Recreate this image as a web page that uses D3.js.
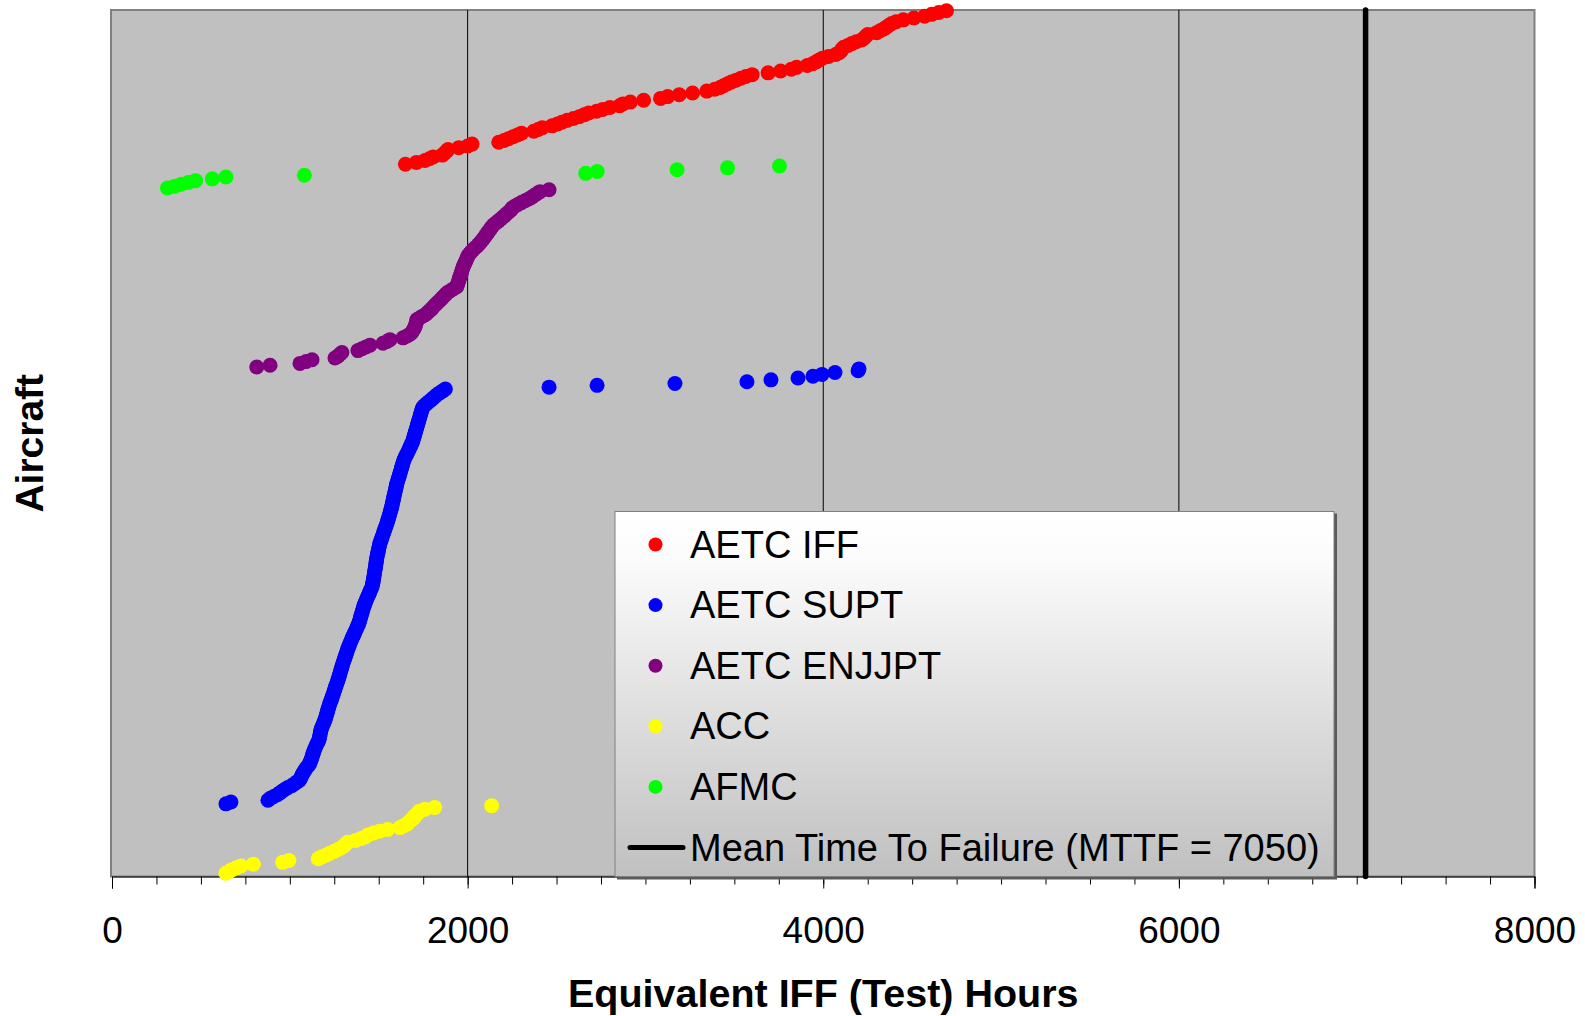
<!DOCTYPE html>
<html>
<head>
<meta charset="utf-8">
<script src="https://cdn.jsdelivr.net/npm/d3@7"></script>
<style>
    body { margin: 0; background: #fff; }
    svg { display: block; font-family: "Liberation Sans", Arial, sans-serif; }
</style>
</head>
<body>
<div class="main"></div>
<script>
// Equivalent IFF hours per aircraft, each group sorted ascending
const acc = [640, 660, 675, 700, 725, 795, 960, 995, 1160, 1180, 1205, 1225, 1250, 1270, 1290, 1305, 1315, 1325, 1370, 1400,
    1425, 1440, 1470, 1505, 1550, 1620, 1640, 1660, 1670, 1680, 1695, 1700, 1710, 1720, 1730, 1760, 1815, 2135];

const supt = [641, 669, 877, 890, 910, 930, 944, 958, 973, 990,
    1011, 1027, 1040, 1055, 1061, 1065, 1070, 1076, 1082, 1088,
    1096, 1106, 1111, 1115, 1119, 1123, 1126, 1129, 1133, 1136,
    1140, 1144, 1149, 1154, 1159, 1164, 1166, 1168, 1170, 1172,
    1174, 1177, 1181, 1185, 1190, 1194, 1198, 1201, 1204, 1207,
    1210, 1213, 1216, 1219, 1222, 1225, 1230, 1233, 1237, 1240,
    1244, 1247, 1251, 1254, 1257, 1261, 1265, 1268, 1272, 1275,
    1278, 1281, 1284, 1287, 1290, 1293, 1296, 1299, 1303, 1306,
    1310, 1313, 1317, 1320, 1324, 1327, 1331, 1335, 1339, 1343,
    1348, 1352, 1357, 1362, 1366, 1371, 1376, 1380, 1385, 1389,
    1392, 1395, 1398, 1401, 1404, 1407, 1410, 1413, 1416, 1420,
    1424, 1428, 1432, 1437, 1441, 1446, 1450, 1454, 1459, 1463,
    1465, 1467, 1469, 1471, 1472, 1474, 1476, 1477, 1479, 1481,
    1482, 1484, 1485, 1487, 1488, 1490, 1492, 1494, 1497, 1499,
    1501, 1503, 1505, 1508, 1512, 1516, 1519, 1523, 1526, 1530,
    1533, 1537, 1541, 1544, 1548, 1551, 1554, 1557, 1560, 1563,
    1566, 1569, 1572, 1574, 1576, 1578, 1581, 1583, 1585, 1588,
    1590, 1592, 1595, 1597, 1599, 1601, 1604, 1607, 1611, 1614,
    1617, 1620, 1623, 1626, 1629, 1632, 1635, 1638, 1641, 1646,
    1651, 1656, 1661, 1666, 1671, 1676, 1680, 1685, 1690, 1693,
    1696, 1699, 1702, 1705, 1708, 1711, 1714, 1717, 1720, 1723,
    1726, 1729, 1732, 1735, 1738, 1741, 1744, 1748, 1758, 1770,
    1782, 1794, 1806, 1818, 1830, 1845, 1860, 1875,
    2458, 2728, 3166, 3571, 3706, 3858, 3942, 3993, 4066, 4196, 4201];

const enjjpt = [814, 889, 1057, 1091, 1125, 1254, 1271, 1282, 1293, 1383,
    1406, 1428, 1451, 1524, 1547, 1563, 1637, 1659, 1676, 1687,
    1693, 1698, 1704, 1707, 1710, 1713, 1715, 1732, 1749, 1766,
    1777, 1788, 1800, 1808, 1817, 1828, 1839, 1850, 1859, 1870,
    1878, 1890, 1907, 1923, 1939, 1942, 1946, 1949, 1953, 1955,
    1959, 1963, 1966, 1968, 1972, 1976, 1980, 1985, 1990, 1994,
    1999, 2003, 2011, 2019, 2029, 2039, 2052, 2061, 2070, 2078,
    2087, 2095, 2102, 2109, 2116, 2124, 2131, 2139, 2148, 2161,
    2174, 2186, 2198, 2210, 2221, 2233, 2244, 2250, 2265, 2283,
    2302, 2323, 2343, 2361, 2376, 2392, 2407, 2458];

const afmc = [312, 354, 389, 429, 470, 564, 641, 1082, 2664, 2729, 3178, 3462, 3754];

const iff = [1650, 1712, 1760, 1785, 1806, 1857, 1870, 1880, 1890, 1950,
    2000, 2025, 2175, 2205, 2230, 2255, 2280, 2303, 2372, 2397,
    2420, 2475, 2505, 2530, 2560, 2595, 2627, 2655, 2680, 2725,
    2760, 2800, 2855, 2873, 2915, 2990, 3085, 3125, 3190, 3265,
    3345, 3390, 3420, 3440, 3462, 3483, 3510, 3537, 3565, 3600,
    3690, 3760, 3820, 3850, 3910, 3940, 3960, 3977, 3995, 4030,
    4070, 4090, 4100, 4106, 4115, 4140, 4160, 4185, 4215, 4230,
    4240, 4250, 4300, 4320, 4340, 4355, 4370, 4385, 4410, 4450,
    4510, 4570, 4610, 4650, 4693];

const mttf = 7050;

// Stacking order on the aircraft axis (bottom to top)
const stackOrder = ["ACC", "AETC SUPT", "AETC ENJJPT", "AFMC", "AETC IFF"];
const stackValues = [acc, supt, enjjpt, afmc, iff];

// Legend order
const legendNames = ["AETC IFF", "AETC SUPT", "AETC ENJJPT", "ACC", "AFMC"];
const colors = {
    "AETC IFF": "#ff0000",
    "AETC SUPT": "#0000ff",
    "AETC ENJJPT": "#800080",
    "ACC": "#ffff00",
    "AFMC": "#00ff00"
};

const xMajorTicks = [0, 2000, 4000, 6000, 8000];
const xGridLines = [2000, 4000, 6000];

const w = 1585;
const h = 1016;
const plotLeft = 112;
const plotRight = 1534.5;
const plotTop = 10;
const plotBottom = 876.5;

// Flatten with a running aircraft index
let idx = 0;
const points = [];
stackOrder.forEach((name, i) => {
    stackValues[i].forEach((v) => {
        points.push({ group: name, hours: v, rank: idx++ });
    });
});

const svg = d3.select(".main").append("svg").attr("width", w).attr("height", h);

const xScale = d3.scaleLinear().domain([0, 8000]).range([plotLeft, plotRight]);
const yScale = d3.scaleLinear().domain([0, points.length - 1]).range([873.3, 10.7]);

// Plot area
svg.append("rect")
    .attr("x", plotLeft - 1)
    .attr("y", plotTop)
    .attr("width", plotRight - plotLeft + 1)
    .attr("height", plotBottom - plotTop)
    .attr("fill", "#c0c0c0")
    .attr("stroke", "#808080")
    .attr("stroke-width", 2);

svg.append("g")
    .selectAll("line")
    .data(xGridLines)
    .enter()
    .append("line")
    .attr("x1", (d) => xScale(d))
    .attr("x2", (d) => xScale(d))
    .attr("y1", plotTop)
    .attr("y2", plotBottom)
    .attr("stroke", "#000")
    .attr("stroke-width", 1);

// Axes: minor ticks every 250, labelled major ticks every 2000
const minorAxis = d3.axisBottom(xScale)
    .tickValues(d3.range(0, 8001, 250))
    .tickSize(8)
    .tickFormat("");

const majorAxis = d3.axisBottom(xScale)
    .tickValues(xMajorTicks)
    .tickSize(12)
    .tickPadding(28)
    .tickFormat(d3.format("d"));

svg.append("g")
    .attr("transform", `translate(0,${plotBottom})`)
    .call(minorAxis)
    .call((g) => g.select(".domain").remove());

const xAxisG = svg.append("g")
    .attr("id", "x-axis")
    .attr("transform", `translate(0,${plotBottom})`)
    .call(majorAxis);

xAxisG.select(".domain").attr("stroke", "#000");
xAxisG.selectAll("text")
    .attr("font-size", 37)
    .attr("font-family", "'Liberation Sans', Arial, sans-serif")
    .attr("fill", "#000");

// Points
svg.append("g")
    .selectAll("circle")
    .data(points)
    .enter()
    .append("circle")
    .attr("cx", (d) => xScale(d.hours))
    .attr("cy", (d) => yScale(d.rank))
    .attr("r", 7.5)
    .attr("fill", (d) => colors[d.group]);

// Mean time to failure
svg.append("line")
    .attr("x1", xScale(mttf))
    .attr("x2", xScale(mttf))
    .attr("y1", plotTop)
    .attr("y2", plotBottom)
    .attr("stroke", "#000")
    .attr("stroke-width", 5.5)
    .attr("stroke-linecap", "round");

// Axis titles
svg.append("text")
    .attr("x", (plotLeft + plotRight) / 2)
    .attr("y", 1007)
    .attr("text-anchor", "middle")
    .attr("font-size", 39.5)
    .attr("font-weight", "bold")
    .text("Equivalent IFF (Test) Hours");

svg.append("text")
    .attr("transform", `translate(43,${(plotTop + plotBottom) / 2}) rotate(-90)`)
    .attr("text-anchor", "middle")
    .attr("font-size", 39)
    .attr("font-weight", "bold")
    .text("Aircraft");

// Legend
const defs = svg.append("defs");
const grad = defs.append("linearGradient")
    .attr("id", "legend-fill")
    .attr("x1", 0).attr("y1", 0)
    .attr("x2", 0).attr("y2", 1);
grad.append("stop").attr("offset", "0%").attr("stop-color", "#ffffff");
grad.append("stop").attr("offset", "12%").attr("stop-color", "#fcfcfc");
grad.append("stop").attr("offset", "100%").attr("stop-color", "#c0c0c0");

const legend = svg.append("g").attr("id", "legend").attr("transform", "translate(615,511.5)");

legend.append("rect")
    .attr("x", 2)
    .attr("y", 2)
    .attr("width", 720)
    .attr("height", 366)
    .attr("fill", "#5a5a5a");

legend.append("rect")
    .attr("width", 719)
    .attr("height", 365)
    .attr("fill", "url(#legend-fill)")
    .attr("stroke", "#808080")
    .attr("stroke-width", 1);

const itemY = (i) => 33 + i * 60.6;

const items = legend.selectAll(".item")
    .data(legendNames)
    .enter()
    .append("g")
    .attr("class", "item")
    .attr("transform", (d, i) => `translate(0,${itemY(i)})`);

items.append("circle")
    .attr("cx", 40.5)
    .attr("r", 7)
    .attr("fill", (d) => colors[d]);

items.append("text")
    .attr("x", 75)
    .attr("y", 13)
    .attr("font-size", 38)
    .text((d) => d);

const mttfItem = legend.append("g").attr("transform", `translate(0,${itemY(5)})`);
mttfItem.append("line")
    .attr("x1", 15)
    .attr("x2", 68)
    .attr("stroke", "#000")
    .attr("stroke-width", 5)
    .attr("stroke-linecap", "round");
mttfItem.append("text")
    .attr("x", 75)
    .attr("y", 13)
    .attr("font-size", 38)
    .text(`Mean Time To Failure (MTTF = ${mttf})`);
</script>
</body>
</html>
